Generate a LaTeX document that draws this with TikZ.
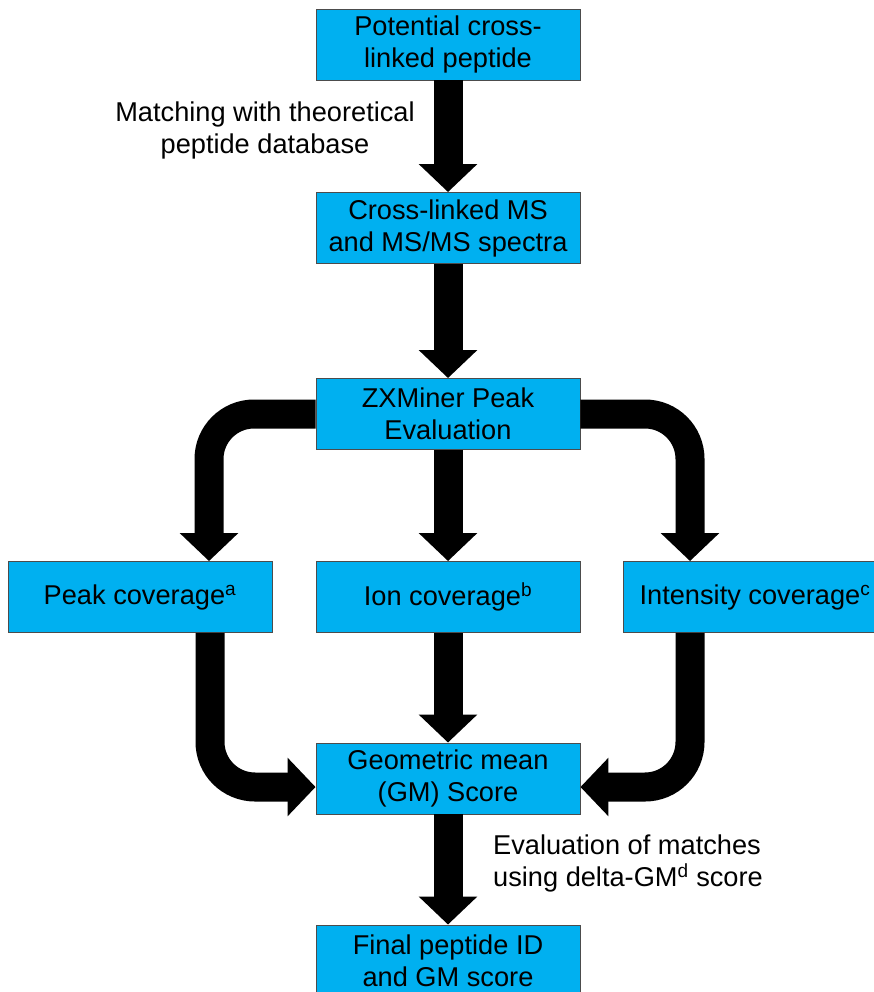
\documentclass[tikz,border=0pt]{standalone}
\usepackage{fontspec}
\setmainfont{Liberation Sans}
\usetikzlibrary{arrows.meta}
\definecolor{boxblue}{HTML}{00B0F0}
\begin{document}
\begin{tikzpicture}[x=1pt,y=-1pt,
  box/.style={draw=black!70, line width=0.9pt, fill=boxblue, minimum width=264pt,
    minimum height=71pt, align=center, inner sep=0pt,
    font=\fontsize{27.2}{32}\selectfont},
  flow/.style={line width=29pt, draw=black, -{Triangle[width=57pt,length=28pt]}},
  lbl/.style={inner sep=0pt, font=\fontsize{27.2}{32}\selectfont}]
\useasboundingbox (0,0) rectangle (874,992);
\begin{scope}
\clip (0,0) rectangle (874,992);
\node[box] (p) at (448,44.5) {Potential cross-\\linked peptide};
\node[box] (ms) at (448,228) {Cross-linked MS\\and MS/MS spectra};
\node[box] (zx) at (448,414) {ZXMiner Peak\\Evaluation};
\node[box] (peak) at (140,597) {Peak coverage\textsuperscript{a}};
\node[box] (ion) at (448,597) {Ion coverage\textsuperscript{b}};
\node[box] (int) at (755,597) {Intensity coverage\textsuperscript{c}};
\node[box] (gm) at (448,778.5) {Geometric mean\\(GM) Score};
\node[box] (fin) at (448,960.5) {Final peptide ID\\and GM score};

\draw[flow] (p) -- (ms);
\draw[flow] (ms) -- (zx);
\draw[flow] (zx) -- (ion);
\draw[flow] (ion) -- (gm);
\draw[flow] (gm) -- (fin);
\draw[flow, rounded corners=45pt] (zx.west) -| ([xshift=69pt]peak.north);
\draw[flow, rounded corners=45pt] (zx.east) -| ([xshift=-65pt]int.north);
\draw[flow, rounded corners=45pt] ([xshift=70pt]peak.south) |- ([yshift=-8.5pt]gm.west);
\draw[flow, rounded corners=45pt] ([xshift=-65pt]int.south) |- ([yshift=-8.5pt]gm.east);

\node[lbl, align=center] (l1) at (265,130) {Matching with theoretical\\peptide database};
\node[lbl, align=left, anchor=west] (l2) at (493,863) {Evaluation of matches\\using delta-GM\textsuperscript{d} score};
\end{scope}
\end{tikzpicture}
\end{document}
